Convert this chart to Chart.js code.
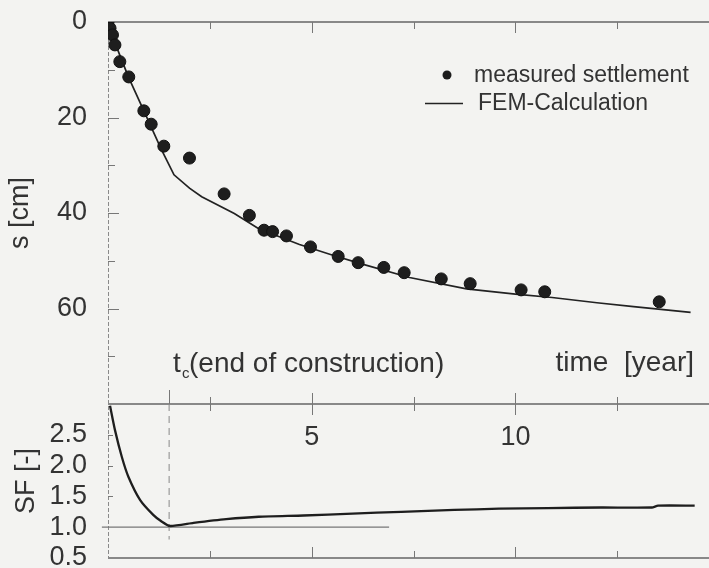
<!DOCTYPE html>
<html>
<head>
<meta charset="utf-8">
<script src="https://cdn.jsdelivr.net/npm/chart.js@4.4.1/dist/chart.umd.min.js"></script>
<style>
html, body { margin: 0; padding: 0; background: #f3f3f1; }
#wrap { position: relative; width: 709px; height: 568px; }
</style>
</head>
<body>
<div id="wrap"><canvas id="settle" width="709" height="568"></canvas></div>
<script>
// measured settlement (time in years, s in cm)
var measT = [0.0, 0.05, 0.11, 0.17, 0.29, 0.51, 0.88, 1.06, 1.37, 2.0, 2.85, 3.47, 3.83, 4.04, 4.38, 4.97, 5.65, 6.14, 6.77, 7.27, 8.18, 8.89, 10.14, 10.72, 13.53];
var measS = [0.0, 1.3, 2.7, 4.8, 8.3, 11.5, 18.6, 21.4, 26.0, 28.5, 36.0, 40.5, 43.6, 43.9, 44.8, 47.1, 49.1, 50.4, 51.4, 52.5, 53.8, 54.8, 56.1, 56.5, 58.6];

// FEM calculation
var femT = [0, 0.2, 0.5, 0.9, 1.3, 1.62, 2.0, 2.3, 3.1, 3.7, 4.7, 5.5, 6.2, 7.4, 8.8, 10.0, 10.9, 12.0, 12.9, 14.3];
var femS = [0, 5.0, 11.5, 19.0, 26.5, 32.0, 34.8, 36.6, 40.1, 43.3, 46.6, 48.8, 50.6, 53.5, 55.9, 57.0, 57.7, 58.8, 59.6, 60.8];

// safety factor
var sfT = [0.05, 0.17, 0.34, 0.5, 0.79, 1.11, 1.3, 1.52, 2.1, 2.9, 3.7, 4.8, 6.0, 7.2, 8.5, 9.6, 10.8, 12.1, 13.35, 13.5, 14.4];
var sfV = [2.97, 2.58, 2.14, 1.82, 1.44, 1.20, 1.10, 1.02, 1.07, 1.13, 1.17, 1.19, 1.22, 1.25, 1.28, 1.30, 1.31, 1.32, 1.32, 1.35, 1.35];

var refT = [-0.15, 6.9];
var refV = [1.0, 1.0];
var tcT = [1.5, 1.5];
var tcV = [3.0, 0.8];

var timeTicks = [2.5, 5, 7.5, 10, 12.5];
var timeLabels = [5, 10];
var sTicks = [10, 20, 30, 40, 50, 60, 70];
var sfTicks = [1.5, 2.0, 2.5];

var FONT = "'Liberation Sans', Arial, sans-serif";

function pts(xs, ys)
{
	var out = [];
	for (var i = 0; i < xs.length; i++) out.push({x: xs[i], y: ys[i]});
	return out;
}

var framePlugin = {
	id: "frame",
	beforeDatasetsDraw: function(chart)
	{
		var ctx = chart.ctx;
		var x = chart.scales.x, y = chart.scales.y, y2 = chart.scales.y2;
		var L = chart.chartArea.left, R = chart.width;
		var top = y.top, mid = y2.top, bot = y2.bottom;
		ctx.save();
		ctx.strokeStyle = "#666";
		ctx.lineWidth = 1.3;
		ctx.beginPath();
		ctx.moveTo(L, top); ctx.lineTo(R, top);
		ctx.moveTo(L, mid); ctx.lineTo(R, mid);
		ctx.moveTo(L, bot); ctx.lineTo(R, bot);
		ctx.stroke();
		// left axis
		ctx.strokeStyle = "#8a8a8a";
		ctx.lineWidth = 1;
		ctx.setLineDash([4, 2]);
		ctx.beginPath();
		ctx.moveTo(L + 0.5, top); ctx.lineTo(L + 0.5, bot);
		ctx.stroke();
		ctx.setLineDash([]);
		// time ticks
		ctx.strokeStyle = "#777";
		ctx.beginPath();
		for (var i = 0; i < timeTicks.length; i++) {
			var px = Math.round(x.getPixelForValue(timeTicks[i])) + 0.5;
			var len = (timeTicks[i] % 5 == 0) ? 11 : 7;
			ctx.moveTo(px, top); ctx.lineTo(px, top + len);
			ctx.moveTo(px, mid - len); ctx.lineTo(px, mid + len);
			ctx.moveTo(px, bot); ctx.lineTo(px, bot - len);
		}
		var tcx = Math.round(x.getPixelForValue(tcT[0])) + 0.5;
		ctx.moveTo(tcx, mid - 14); ctx.lineTo(tcx, mid);
		// s ticks
		for (var j = 0; j < sTicks.length; j++) {
			var py = Math.round(y.getPixelForValue(sTicks[j])) + 0.5;
			ctx.moveTo(L, py); ctx.lineTo(L + (sTicks[j] % 20 == 0 ? 11 : 7), py);
		}
		for (var k = 0; k < sfTicks.length; k++) {
			var qy = Math.round(y2.getPixelForValue(sfTicks[k])) + 0.5;
			ctx.moveTo(L, qy); ctx.lineTo(L + 5, qy);
		}
		ctx.stroke();
		ctx.restore();
	},
	afterDraw: function(chart)
	{
		var ctx = chart.ctx;
		var x = chart.scales.x, y = chart.scales.y, y2 = chart.scales.y2;
		ctx.save();
		ctx.fillStyle = "#333";
		ctx.textBaseline = "middle";
		// time labels inside the SF panel
		ctx.font = "27px " + FONT;
		ctx.textAlign = "center";
		for (var i = 0; i < timeLabels.length; i++) {
			ctx.fillText(String(timeLabels[i]), x.getPixelForValue(timeLabels[i]), y2.top + 34);
		}
		// end of construction note
		ctx.textAlign = "left";
		ctx.font = "28px " + FONT;
		var tx = 173, ty = 364;
		ctx.fillText("t", tx, ty);
		ctx.font = "15px " + FONT;
		ctx.fillText("c", tx + 9, ty + 10);
		ctx.font = "28px " + FONT;
		ctx.fillText("(end of construction)", tx + 16, ty);
		ctx.textAlign = "right";
		ctx.fillText("time  [year]", 694, 363);
		// legend
		ctx.textAlign = "left";
		ctx.font = "23px " + FONT;
		ctx.fillText("measured settlement", 474, 76);
		ctx.fillText("FEM-Calculation", 478, 104);
		ctx.fillStyle = "#1c1c1c";
		ctx.beginPath();
		ctx.arc(447, 75, 4.5, 0, Math.PI * 2);
		ctx.fill();
		ctx.strokeStyle = "#222";
		ctx.lineWidth = 1.5;
		ctx.beginPath();
		ctx.moveTo(425, 103.5); ctx.lineTo(463, 103.5);
		ctx.stroke();
		ctx.restore();
	}
};

function fixWidth(scale)
{
	scale.width = 108;
	scale.paddingTop = 0;
	scale.paddingBottom = 0;
}

new Chart("settle", {
	type: "scatter",
	data: {
		datasets: [
			{
				label: "measured settlement",
				data: pts(measT, measS),
				yAxisID: "y",
				showLine: false,
				pointRadius: 6,
				pointBackgroundColor: "#1e1e1e",
				pointBorderColor: "#111",
				pointBorderWidth: 1
			},
			{
				label: "FEM-Calculation",
				data: pts(femT, femS),
				yAxisID: "y",
				showLine: true,
				pointRadius: 0,
				borderColor: "#222",
				borderWidth: 1.7,
				tension: 0
			},
			{
				label: "SF",
				data: pts(sfT, sfV),
				yAxisID: "y2",
				showLine: true,
				pointRadius: 0,
				borderColor: "#1e1e1e",
				borderWidth: 2.3,
				tension: 0.2
			},
			{
				label: "SF = 1",
				data: pts(refT, refV),
				yAxisID: "y2",
				showLine: true,
				pointRadius: 0,
				borderColor: "#777",
				borderWidth: 1.2,
				clip: false
			},
			{
				label: "tc",
				data: pts(tcT, tcV),
				yAxisID: "y2",
				showLine: true,
				pointRadius: 0,
				borderColor: "#888",
				borderWidth: 1,
				borderDash: [7, 5],
				clip: false
			}
		]
	},
	options: {
		responsive: false,
		animation: false,
		layout: { padding: { top: 22, bottom: 10, left: 0, right: 0 } },
		plugins: { legend: { display: false }, tooltip: { enabled: false } },
		scales: {
			x: {
				type: "linear",
				display: false,
				min: 0,
				max: 14.58
			},
			y: {
				type: "linear",
				position: "left",
				weight: 2,
				stack: "panels",
				stackWeight: 382,
				reverse: true,
				min: 0,
				max: 80,
				afterFit: fixWidth,
				grid: { display: false },
				border: { display: false },
				ticks: {
					stepSize: 20,
					padding: 13,
					color: "#333",
					font: { family: FONT, size: 27 },
					callback: function(v) { return v == 80 ? "" : v; }
				},
				title: {
					display: true,
					text: "s [cm]",
					color: "#333",
					padding: { top: 4, bottom: 0 },
					font: { family: FONT, size: 27 }
				}
			},
			y2: {
				type: "linear",
				position: "left",
				weight: 1,
				stack: "panels",
				stackWeight: 154,
				min: 0.5,
				max: 3.0,
				afterFit: fixWidth,
				grid: { display: false },
				border: { display: false },
				ticks: {
					stepSize: 0.5,
					autoSkip: false,
					padding: 13,
					color: "#333",
					font: { family: FONT, size: 27 },
					callback: function(v) { return v >= 3 ? "" : v.toFixed(1); }
				},
				title: {
					display: true,
					text: "SF [-]",
					color: "#333",
					padding: { top: 10, bottom: 0 },
					font: { family: FONT, size: 27 }
				}
			}
		}
	},
	plugins: [framePlugin]
});
</script>
</body>
</html>
